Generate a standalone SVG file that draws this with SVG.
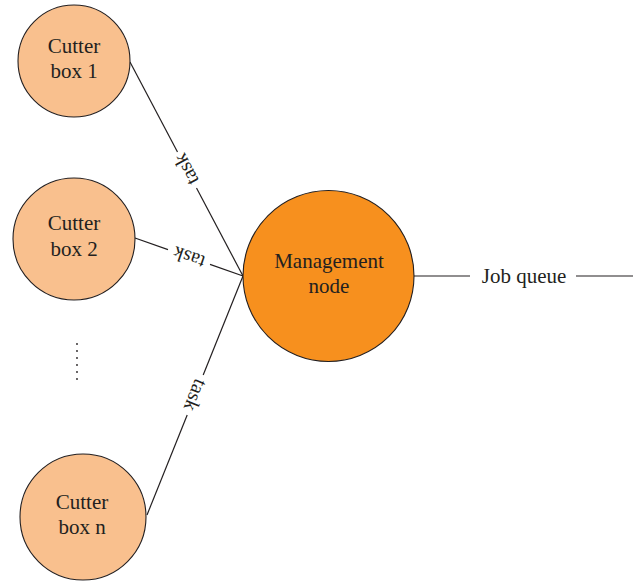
<svg xmlns="http://www.w3.org/2000/svg" width="638" height="583" viewBox="0 0 638 583">
  <style>
    .bg { fill: #ffffff; }
    .box { fill: #F9C08E; stroke: #231f20; stroke-width: 1.1; }
    .mgmt { fill: #F7901E; stroke: #231f20; stroke-width: 1.1; }
    .label { font-family: "Liberation Serif", "Times New Roman", serif; font-size: 21px; fill: #231f20; text-anchor: middle; }
    .edge { stroke: #231f20; stroke-width: 1.2; fill: none; }
    .tag { font-family: "Liberation Serif", "Times New Roman", serif; font-size: 20px; fill: #231f20; text-anchor: middle; }
    .dot { fill: #231f20; }
  </style>
  <rect class="bg" x="0" y="0" width="638" height="583"/>

  <!-- connectors -->
  <g id="connectors">
    <line class="edge" x1="130" y1="62" x2="177.5" y2="152"/>
    <line class="edge" x1="196.5" y1="188" x2="243" y2="276"/>
    <text class="tag" transform="translate(186.5,169) rotate(-117.8)" y="6">task</text>

    <line class="edge" x1="135" y1="238" x2="168" y2="249.6"/>
    <line class="edge" x1="210" y1="264.4" x2="243" y2="276"/>
    <text class="tag" transform="translate(189,257) rotate(-160.6)" y="6">task</text>

    <line class="edge" x1="147" y1="515" x2="187.2" y2="415"/>
    <line class="edge" x1="203.2" y1="375" x2="243" y2="276"/>
    <text class="tag" transform="translate(195,395) rotate(111.9)" y="6">task</text>

    <line class="edge" x1="414" y1="276" x2="470" y2="276"/>
    <text class="label" x="524" y="283">Job queue</text>
    <line class="edge" x1="576" y1="276" x2="633" y2="276"/>
  </g>

  <g id="cutter-box-1">
    <circle class="box" cx="74" cy="61" r="56"/>
    <text class="label" x="74" y="53">Cutter</text>
    <text class="label" x="74" y="78">box 1</text>
  </g>

  <g id="cutter-box-2">
    <circle class="box" cx="74" cy="239" r="61"/>
    <text class="label" x="74" y="230">Cutter</text>
    <text class="label" x="74" y="256">box 2</text>
  </g>

  <g id="ellipsis">
    <circle class="dot" cx="77" cy="344" r="0.9"/>
    <circle class="dot" cx="77" cy="351" r="0.9"/>
    <circle class="dot" cx="77" cy="358" r="0.9"/>
    <circle class="dot" cx="77" cy="365" r="0.9"/>
    <circle class="dot" cx="77" cy="372" r="0.9"/>
    <circle class="dot" cx="77" cy="379" r="0.9"/>
  </g>

  <g id="cutter-box-n">
    <circle class="box" cx="83" cy="517" r="63"/>
    <text class="label" x="82" y="509">Cutter</text>
    <text class="label" x="82" y="534">box n</text>
  </g>

  <g id="management-node">
    <circle class="mgmt" cx="328.5" cy="276" r="85.5"/>
    <text class="label" x="329" y="268">Management</text>
    <text class="label" x="329" y="293">node</text>
  </g>
</svg>
